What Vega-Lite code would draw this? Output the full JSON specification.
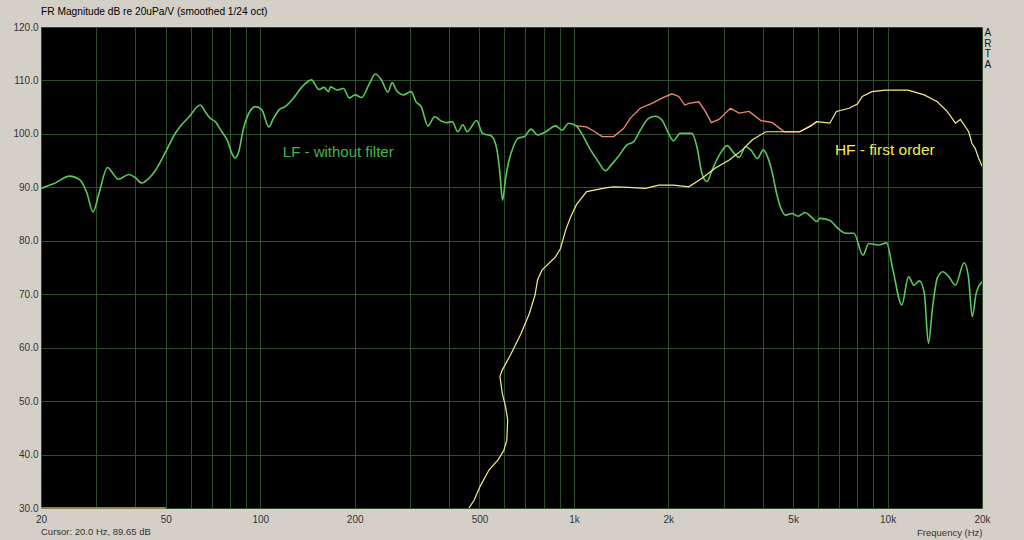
{
  "$schema": "https://vega.github.io/schema/vega-lite/v6.json",
  "width": 941,
  "height": 481,
  "autosize": {"type": "none"},
  "padding": {"left": 41, "top": 27, "right": 42, "bottom": 32},
  "background": "#d4d0c8",
  "title": {"text": "FR Magnitude dB re 20uPa/V (smoothed 1/24 oct)", "anchor": "start", "frame": "group", "fontSize": 10.2, "fontWeight": "normal", "font": "Liberation Sans", "color": "#000000", "offset": 5},
  "config": {
    "view": {"fill": "#000000", "stroke": null},
    "axis": {"gridColor": "#2e4e2e", "gridOpacity": 1, "gridWidth": 1, "ticks": false, "domain": false, "labelFont": "Liberation Sans", "labelFontSize": 10, "labelColor": "#333333", "titleFont": "Liberation Sans"}
  },
  "datasets": {
    "floor": [{"f": 20, "db": 30}, {"f": 50, "db": 30}],
    "lf": [
      {"f": 20, "db": 89.8}, {"f": 22, "db": 90.7}, {"f": 24.7, "db": 92.1}, {"f": 26.6, "db": 91.4}, {"f": 28, "db": 89}, {"f": 29.3, "db": 85.4}, {"f": 30.5, "db": 88.5}, {"f": 32.6, "db": 93.7}, {"f": 34, "db": 92.5}, {"f": 35.3, "db": 91.5}, {"f": 38.1, "db": 92.4}, {"f": 40, "db": 91.8}, {"f": 41.9, "db": 90.8}, {"f": 44.2, "db": 91.7}, {"f": 46.5, "db": 93.3}, {"f": 49, "db": 95.7}, {"f": 54, "db": 100.4}, {"f": 59.3, "db": 103.2}, {"f": 64.4, "db": 105.4}, {"f": 67, "db": 104}, {"f": 69.3, "db": 102.9}, {"f": 71.9, "db": 102.3}, {"f": 75, "db": 100.6}, {"f": 78.9, "db": 98.5}, {"f": 81, "db": 96.5}, {"f": 83, "db": 95.5}, {"f": 85.7, "db": 97.0}, {"f": 88, "db": 100.5}, {"f": 90.5, "db": 102.9}, {"f": 96.5, "db": 105.1}, {"f": 101.2, "db": 104.5}, {"f": 106.5, "db": 101.3}, {"f": 110, "db": 102.8}, {"f": 114.8, "db": 104.5}, {"f": 120, "db": 105.1}, {"f": 127.6, "db": 106.7}, {"f": 135.9, "db": 108.8}, {"f": 145.6, "db": 110.1}, {"f": 153.8, "db": 108.3}, {"f": 159.7, "db": 108.7}, {"f": 164.9, "db": 107.9}, {"f": 167.6, "db": 108.8}, {"f": 175.6, "db": 108.2}, {"f": 184.2, "db": 108.5}, {"f": 192.5, "db": 106.7}, {"f": 200.6, "db": 107.3}, {"f": 210.4, "db": 106.8}, {"f": 223.3, "db": 109.5}, {"f": 232.8, "db": 111.2}, {"f": 243.3, "db": 110.1}, {"f": 255.3, "db": 107.8}, {"f": 263.6, "db": 109.6}, {"f": 271.3, "db": 108.2}, {"f": 286, "db": 107.3}, {"f": 302.7, "db": 107.9}, {"f": 314, "db": 106}, {"f": 326, "db": 105.1}, {"f": 342.5, "db": 101.5}, {"f": 359.7, "db": 103.2}, {"f": 377.8, "db": 102.4}, {"f": 392, "db": 102.1}, {"f": 409.5, "db": 102.3}, {"f": 426.5, "db": 100.4}, {"f": 442.3, "db": 101.7}, {"f": 456.6, "db": 100.4}, {"f": 489.6, "db": 102.5}, {"f": 511, "db": 100.1}, {"f": 546, "db": 99.6}, {"f": 568.5, "db": 97.0}, {"f": 580, "db": 93}, {"f": 592.4, "db": 87.6}, {"f": 605, "db": 91.5}, {"f": 618, "db": 94.5}, {"f": 640, "db": 97.5}, {"f": 664, "db": 99.2}, {"f": 696, "db": 99.5}, {"f": 730, "db": 100.9}, {"f": 766, "db": 99.8}, {"f": 813, "db": 100.4}, {"f": 874, "db": 101.5}, {"f": 917, "db": 100.7}, {"f": 962, "db": 102.0}, {"f": 1017, "db": 101.5}, {"f": 1060, "db": 100.0}, {"f": 1125, "db": 97.2}, {"f": 1190, "db": 95.0}, {"f": 1261, "db": 93.1}, {"f": 1320, "db": 94.3}, {"f": 1388, "db": 95.8}, {"f": 1474, "db": 97.9}, {"f": 1549, "db": 98.5}, {"f": 1628, "db": 100.7}, {"f": 1730, "db": 102.9}, {"f": 1817, "db": 103.3}, {"f": 1908, "db": 102.6}, {"f": 2003, "db": 100.1}, {"f": 2077, "db": 98.7}, {"f": 2182, "db": 100.1}, {"f": 2377, "db": 100.1}, {"f": 2467, "db": 97.6}, {"f": 2560, "db": 92.6}, {"f": 2656, "db": 91.1}, {"f": 2756, "db": 93.2}, {"f": 2932, "db": 96.4}, {"f": 3079, "db": 97.8}, {"f": 3235, "db": 96.4}, {"f": 3360, "db": 95.6}, {"f": 3529, "db": 97.6}, {"f": 3663, "db": 97.0}, {"f": 3848, "db": 95.4}, {"f": 4015, "db": 97.0}, {"f": 4144, "db": 95.7}, {"f": 4295, "db": 92.6}, {"f": 4403, "db": 89.5}, {"f": 4569, "db": 86.1}, {"f": 4733, "db": 84.8}, {"f": 4959, "db": 85.1}, {"f": 5180, "db": 84.6}, {"f": 5459, "db": 85.3}, {"f": 5700, "db": 84.5}, {"f": 5948, "db": 83.6}, {"f": 6086, "db": 84.2}, {"f": 6546, "db": 83.8}, {"f": 6946, "db": 82.3}, {"f": 7362, "db": 81.4}, {"f": 7806, "db": 81.4}, {"f": 8347, "db": 77.3}, {"f": 8715, "db": 79.5}, {"f": 9361, "db": 79.2}, {"f": 9926, "db": 79.6}, {"f": 10404, "db": 74.5}, {"f": 11104, "db": 68.0}, {"f": 11663, "db": 73.3}, {"f": 12128, "db": 71.7}, {"f": 12640, "db": 72.5}, {"f": 13094, "db": 70.2}, {"f": 13496, "db": 60.8}, {"f": 13924, "db": 67.7}, {"f": 14405, "db": 73.0}, {"f": 15000, "db": 74.2}, {"f": 15665, "db": 73.3}, {"f": 16453, "db": 71.7}, {"f": 17540, "db": 75.9}, {"f": 18100, "db": 73.3}, {"f": 18622, "db": 65.8}, {"f": 19168, "db": 70.2}, {"f": 20000, "db": 72.3}
    ],
    "hf": [
      {"f": 463, "db": 30.0}, {"f": 481, "db": 31.5}, {"f": 502, "db": 34.0}, {"f": 536, "db": 37.1}, {"f": 573, "db": 39.0}, {"f": 598, "db": 40.8}, {"f": 611, "db": 42.7}, {"f": 615, "db": 46.5}, {"f": 605, "db": 49.0}, {"f": 591, "db": 51.5}, {"f": 581, "db": 54.6}, {"f": 591, "db": 55.8}, {"f": 631, "db": 58.9}, {"f": 679, "db": 62.7}, {"f": 721, "db": 66.4}, {"f": 752, "db": 69.9}, {"f": 766, "db": 72.7}, {"f": 791, "db": 74.5}, {"f": 874, "db": 77.0}, {"f": 907, "db": 78.6}, {"f": 941, "db": 82.0}, {"f": 977, "db": 84.5}, {"f": 1020, "db": 86.8}, {"f": 1098, "db": 89.2}, {"f": 1261, "db": 89.9}, {"f": 1339, "db": 90.1}, {"f": 1492, "db": 90.0}, {"f": 1690, "db": 89.8}, {"f": 1864, "db": 90.4}, {"f": 2077, "db": 90.4}, {"f": 2325, "db": 90.1}, {"f": 2560, "db": 91.7}, {"f": 2826, "db": 93.6}, {"f": 3127, "db": 95.1}, {"f": 3442, "db": 97.0}, {"f": 3708, "db": 98.9}, {"f": 4094, "db": 100.4}, {"f": 4624, "db": 100.4}, {"f": 5245, "db": 100.4}, {"f": 5700, "db": 101.5}, {"f": 5948, "db": 102.3}, {"f": 6546, "db": 102.0}, {"f": 6866, "db": 104.2}, {"f": 7544, "db": 104.8}, {"f": 8007, "db": 105.6}, {"f": 8305, "db": 107.0}, {"f": 8922, "db": 107.9}, {"f": 9812, "db": 108.2}, {"f": 11616, "db": 108.2}, {"f": 13094, "db": 107.3}, {"f": 14405, "db": 106.0}, {"f": 15484, "db": 104.2}, {"f": 16453, "db": 102.0}, {"f": 17066, "db": 102.7}, {"f": 18137, "db": 100.4}, {"f": 18582, "db": 98.2}, {"f": 19024, "db": 97.3}, {"f": 19500, "db": 95.5}, {"f": 20000, "db": 94.0}
    ],
    "sum": [
      {"f": 1017, "db": 101.5}, {"f": 1096, "db": 101.3}, {"f": 1160, "db": 100.5}, {"f": 1230, "db": 99.5}, {"f": 1339, "db": 99.5}, {"f": 1440, "db": 101.0}, {"f": 1511, "db": 102.9}, {"f": 1628, "db": 104.8}, {"f": 1772, "db": 105.7}, {"f": 1908, "db": 106.7}, {"f": 2055, "db": 107.5}, {"f": 2158, "db": 107.0}, {"f": 2257, "db": 105.4}, {"f": 2325, "db": 105.7}, {"f": 2503, "db": 106.0}, {"f": 2624, "db": 104.2}, {"f": 2743, "db": 102.1}, {"f": 2900, "db": 102.7}, {"f": 3156, "db": 104.8}, {"f": 3360, "db": 103.9}, {"f": 3618, "db": 104.2}, {"f": 3946, "db": 102.5}, {"f": 4295, "db": 102.1}, {"f": 4681, "db": 100.4}, {"f": 5245, "db": 100.4}, {"f": 5600, "db": 101.3}, {"f": 5948, "db": 102.3}
    ]
  },
  "encoding": {
    "x": {"field": "f", "type": "quantitative", "scale": {"type": "log", "domain": [20, 20000]},
      "axis": {"values": [20, 30, 40, 50, 60, 70, 80, 90, 100, 200, 300, 400, 500, 600, 700, 800, 900, 1000, 2000, 3000, 4000, 5000, 6000, 7000, 8000, 9000, 10000, 20000],
        "labelExpr": "indexof([20,50,100,200,500,1000,2000,5000,10000,20000], datum.value) < 0 ? '' : (datum.value >= 1000 ? (datum.value/1000) + 'k' : '' + datum.value)",
        "labelOverlap": false, "labelFlush": false, "labelPadding": 6, "grid": true,
        "title": "Frequency (Hz)", "titleAnchor": "end", "titleAlign": "right", "titleFontSize": 9.5, "titleFontWeight": "normal", "titleColor": "#333333", "titlePadding": 3}},
    "y": {"field": "db", "type": "quantitative", "scale": {"domain": [30, 120]},
      "axis": {"values": [30, 40, 50, 60, 70, 80, 90, 100, 110, 120], "format": ".1f", "labelPadding": 3, "grid": true, "title": null}}
  },
  "layer": [
    {"data": {"name": "floor"}, "mark": {"type": "line", "color": "#8a8a48", "strokeWidth": 2, "clip": false}},
    {"data": {"name": "sum"}, "mark": {"type": "line", "color": "#f08a70", "strokeWidth": 1.3, "clip": true}},
    {"data": {"name": "lf"}, "mark": {"type": "line", "color": "#5ac85a", "strokeWidth": 1.6, "interpolate": "monotone", "clip": true}},
    {"data": {"name": "hf"}, "mark": {"type": "line", "color": "#f4f080", "strokeWidth": 1.2, "clip": true}, "encoding": {"order": {"value": null}}},
    {"data": {"values": [{"f": 118, "db": 96.6, "label": "LF - without filter"}]}, "mark": {"type": "text", "align": "left", "baseline": "middle", "font": "Liberation Sans", "fontSize": 15, "color": "#42b84a"}, "encoding": {"text": {"field": "label"}}},
    {"data": {"values": [{"f": 6792, "db": 97.0, "label": "HF - first order"}]}, "mark": {"type": "text", "align": "left", "baseline": "middle", "font": "Liberation Sans", "fontSize": 15.5, "color": "#f4ec50"}, "encoding": {"text": {"field": "label"}}},
    {"data": {"values": [{"f": 20, "db": 25.5, "label": "Cursor: 20.0 Hz, 89.65 dB"}]}, "mark": {"type": "text", "align": "left", "baseline": "middle", "font": "Liberation Sans", "fontSize": 9.5, "color": "#333333", "clip": false}, "encoding": {"text": {"field": "label"}}},
    {"data": {"values": [{"f": 20886, "db": 119.8, "label": "A\nR\nT\nA"}]}, "mark": {"type": "text", "align": "center", "baseline": "top", "lineBreak": "\n", "lineHeight": 10.7, "font": "Liberation Sans", "fontSize": 10, "color": "#111111", "clip": false}, "encoding": {"text": {"field": "label"}}}
  ]
}
